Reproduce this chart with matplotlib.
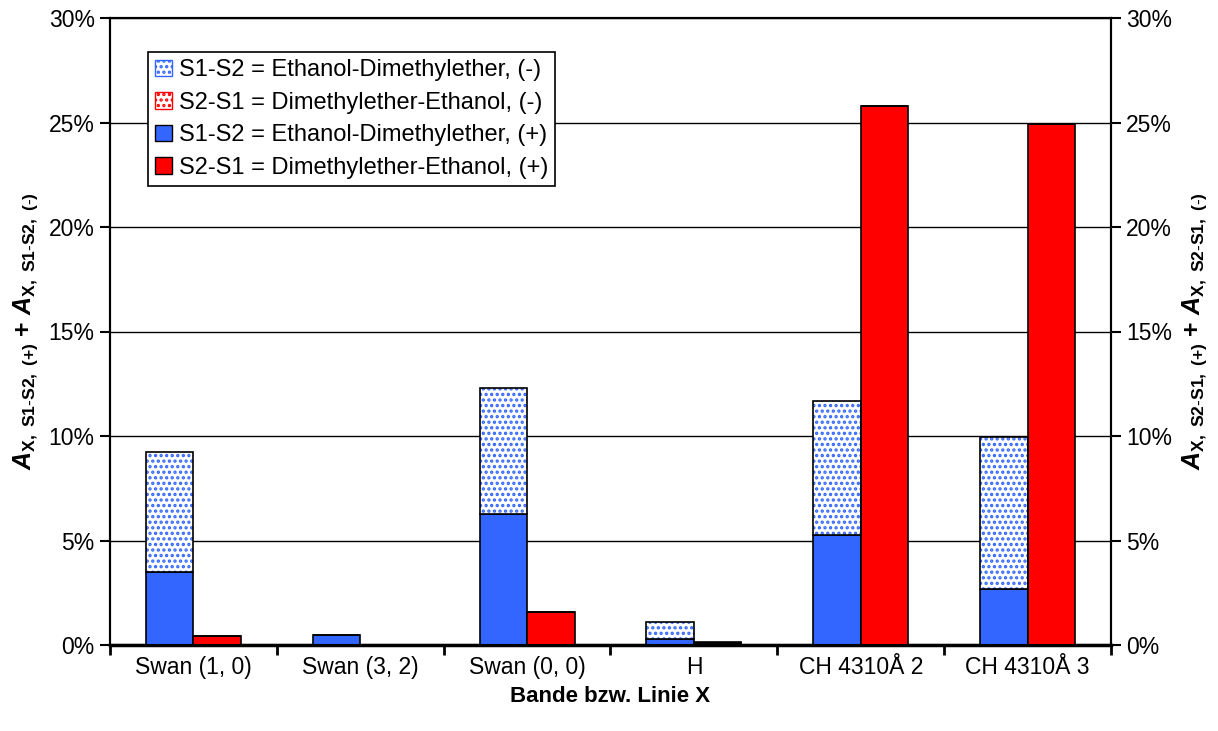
import matplotlib
matplotlib.use("Agg")
import matplotlib.pyplot as plt
import numpy as np
from matplotlib.patches import Patch
from matplotlib.ticker import PercentFormatter

plt.rcParams['font.family'] = ['Liberation Sans', 'DejaVu Sans']
plt.rcParams['mathtext.fontset'] = 'custom'
plt.rcParams['mathtext.rm'] = 'Liberation Sans'
plt.rcParams['mathtext.bf'] = 'Liberation Sans:bold'
plt.rcParams['mathtext.it'] = 'Liberation Sans:italic'
try:
    plt.rcParams['mathtext.bfit'] = 'Liberation Sans:bold:italic'
except KeyError:
    pass

categories = ["Swan (1, 0)", "Swan (3, 2)", "Swan (0, 0)", "H", "CH 4310Å 2", "CH 4310Å 3"]
s1s2_plus = [3.5, 0.48, 6.25, 0.3, 5.26, 2.7]
s1s2_minus = [5.75, 0.0, 6.05, 0.8, 6.42, 7.27]
s2s1_plus = [0.45, 0.0, 1.57, 0.1, 25.8, 24.94]
s2s1_minus = [0.0, 0.0, 0.0, 0.05, 0.0, 0.0]

legend_labels = ["S1-S2 = Ethanol-Dimethylether, (-)",
                 "S2-S1 = Dimethylether-Ethanol, (-)",
                 "S1-S2 = Ethanol-Dimethylether, (+)",
                 "S2-S1 = Dimethylether-Ethanol, (+)"]

blue = '#3366FF'
red = '#FF0000'

fig = plt.figure(figsize=(12.18, 7.31), dpi=100)
ax = fig.add_axes([110/1218, 1-645/731, 1001/1218, 627/731])

x = np.arange(len(categories))
w = 0.285
plt.rcParams['hatch.linewidth'] = 1.6

xb = x - w/2
xr = x + w/2
# blue (+)
ax.bar(xb, s1s2_plus, w, color=blue, edgecolor='black', linewidth=1.2, zorder=3)
# blue (-) hatched
ax.bar(xb, s1s2_minus, w, bottom=s1s2_plus, color='white', edgecolor=blue,
       hatch='...', linewidth=0, zorder=3)
ax.bar(xb, s1s2_minus, w, bottom=s1s2_plus, fill=False, edgecolor='black',
       linewidth=1.2, zorder=4)
# red (+)
ax.bar(xr, s2s1_plus, w, color=red, edgecolor='black', linewidth=1.2, zorder=3)
ax.bar(xr, s2s1_minus, w, bottom=s2s1_plus, color='white', edgecolor=red,
       hatch='...', linewidth=0, zorder=3)
ax.bar(xr, s2s1_minus, w, bottom=s2s1_plus, fill=False, edgecolor='black',
       linewidth=1.2, zorder=4)

ax.set_xlim(-0.5, len(categories) - 0.5)
ax.set_ylim(0, 30)
ax.set_yticks(np.arange(0, 31, 5))
ax.yaxis.set_major_formatter(PercentFormatter(decimals=0))
ax.grid(axis='y', color='black', linewidth=1.0, zorder=0)
ax.set_axisbelow(True)

ax.set_xticks(np.arange(-0.5, len(categories), 1.0))
ax.set_xticklabels([])
ax.set_xticks(x, minor=True)
ax.set_xticklabels(categories, minor=True, fontsize=16.5)
ax.tick_params(axis='x', which='minor', length=0, pad=8)
ax.tick_params(axis='x', which='major', length=7, width=2, direction='out')
ax.tick_params(axis='y', length=7, width=1.5, direction='out', labelsize=16.5, pad=4)
for s in ax.spines.values():
    s.set_linewidth(1.5)
ax.spines['bottom'].set_linewidth(2.5)

ax2 = ax.twinx()
ax2.set_ylim(0, 30)
ax2.set_yticks(np.arange(0, 31, 5))
ax2.yaxis.set_major_formatter(PercentFormatter(decimals=0))
ax2.tick_params(axis='y', length=7, width=1.5, direction='out', labelsize=16.5, pad=4)
for s in ax2.spines.values():
    s.set_linewidth(1.5)

ax.set_xlabel("Bande bzw. Linie X", fontsize=16, fontweight='bold', labelpad=5)
ax.set_ylabel(r"$\mathbfit{A}_{\mathbf{X,\ S1\text{-}S2,\ (+)}}\ \mathbf{+}\ \mathbfit{A}_{\mathbf{X,\ S1\text{-}S2,\ (\text{-})}}$",
              fontsize=18, labelpad=6)
ax2.set_ylabel(r"$\mathbfit{A}_{\mathbf{X,\ S2\text{-}S1,\ (+)}}\ \mathbf{+}\ \mathbfit{A}_{\mathbf{X,\ S2\text{-}S1,\ (\text{-})}}$",
               fontsize=18, labelpad=6)

handles = [Patch(facecolor='white', edgecolor=blue, hatch='...'),
           Patch(facecolor='white', edgecolor=red, hatch='...'),
           Patch(facecolor=blue, edgecolor='black'),
           Patch(facecolor=red, edgecolor='black')]
leg = ax.legend(handles, legend_labels, loc='upper left', bbox_to_anchor=(38/1001, 1-34/627),
                fontsize=17, frameon=True, fancybox=False, framealpha=1,
                edgecolor='black', handlelength=0.7, handleheight=0.7,
                handletextpad=0.3, borderpad=0.3, labelspacing=0.45, borderaxespad=0)
leg.get_frame().set_linewidth(1.2)
leg.set_zorder(10)

fig.savefig("out.png", dpi=100)
